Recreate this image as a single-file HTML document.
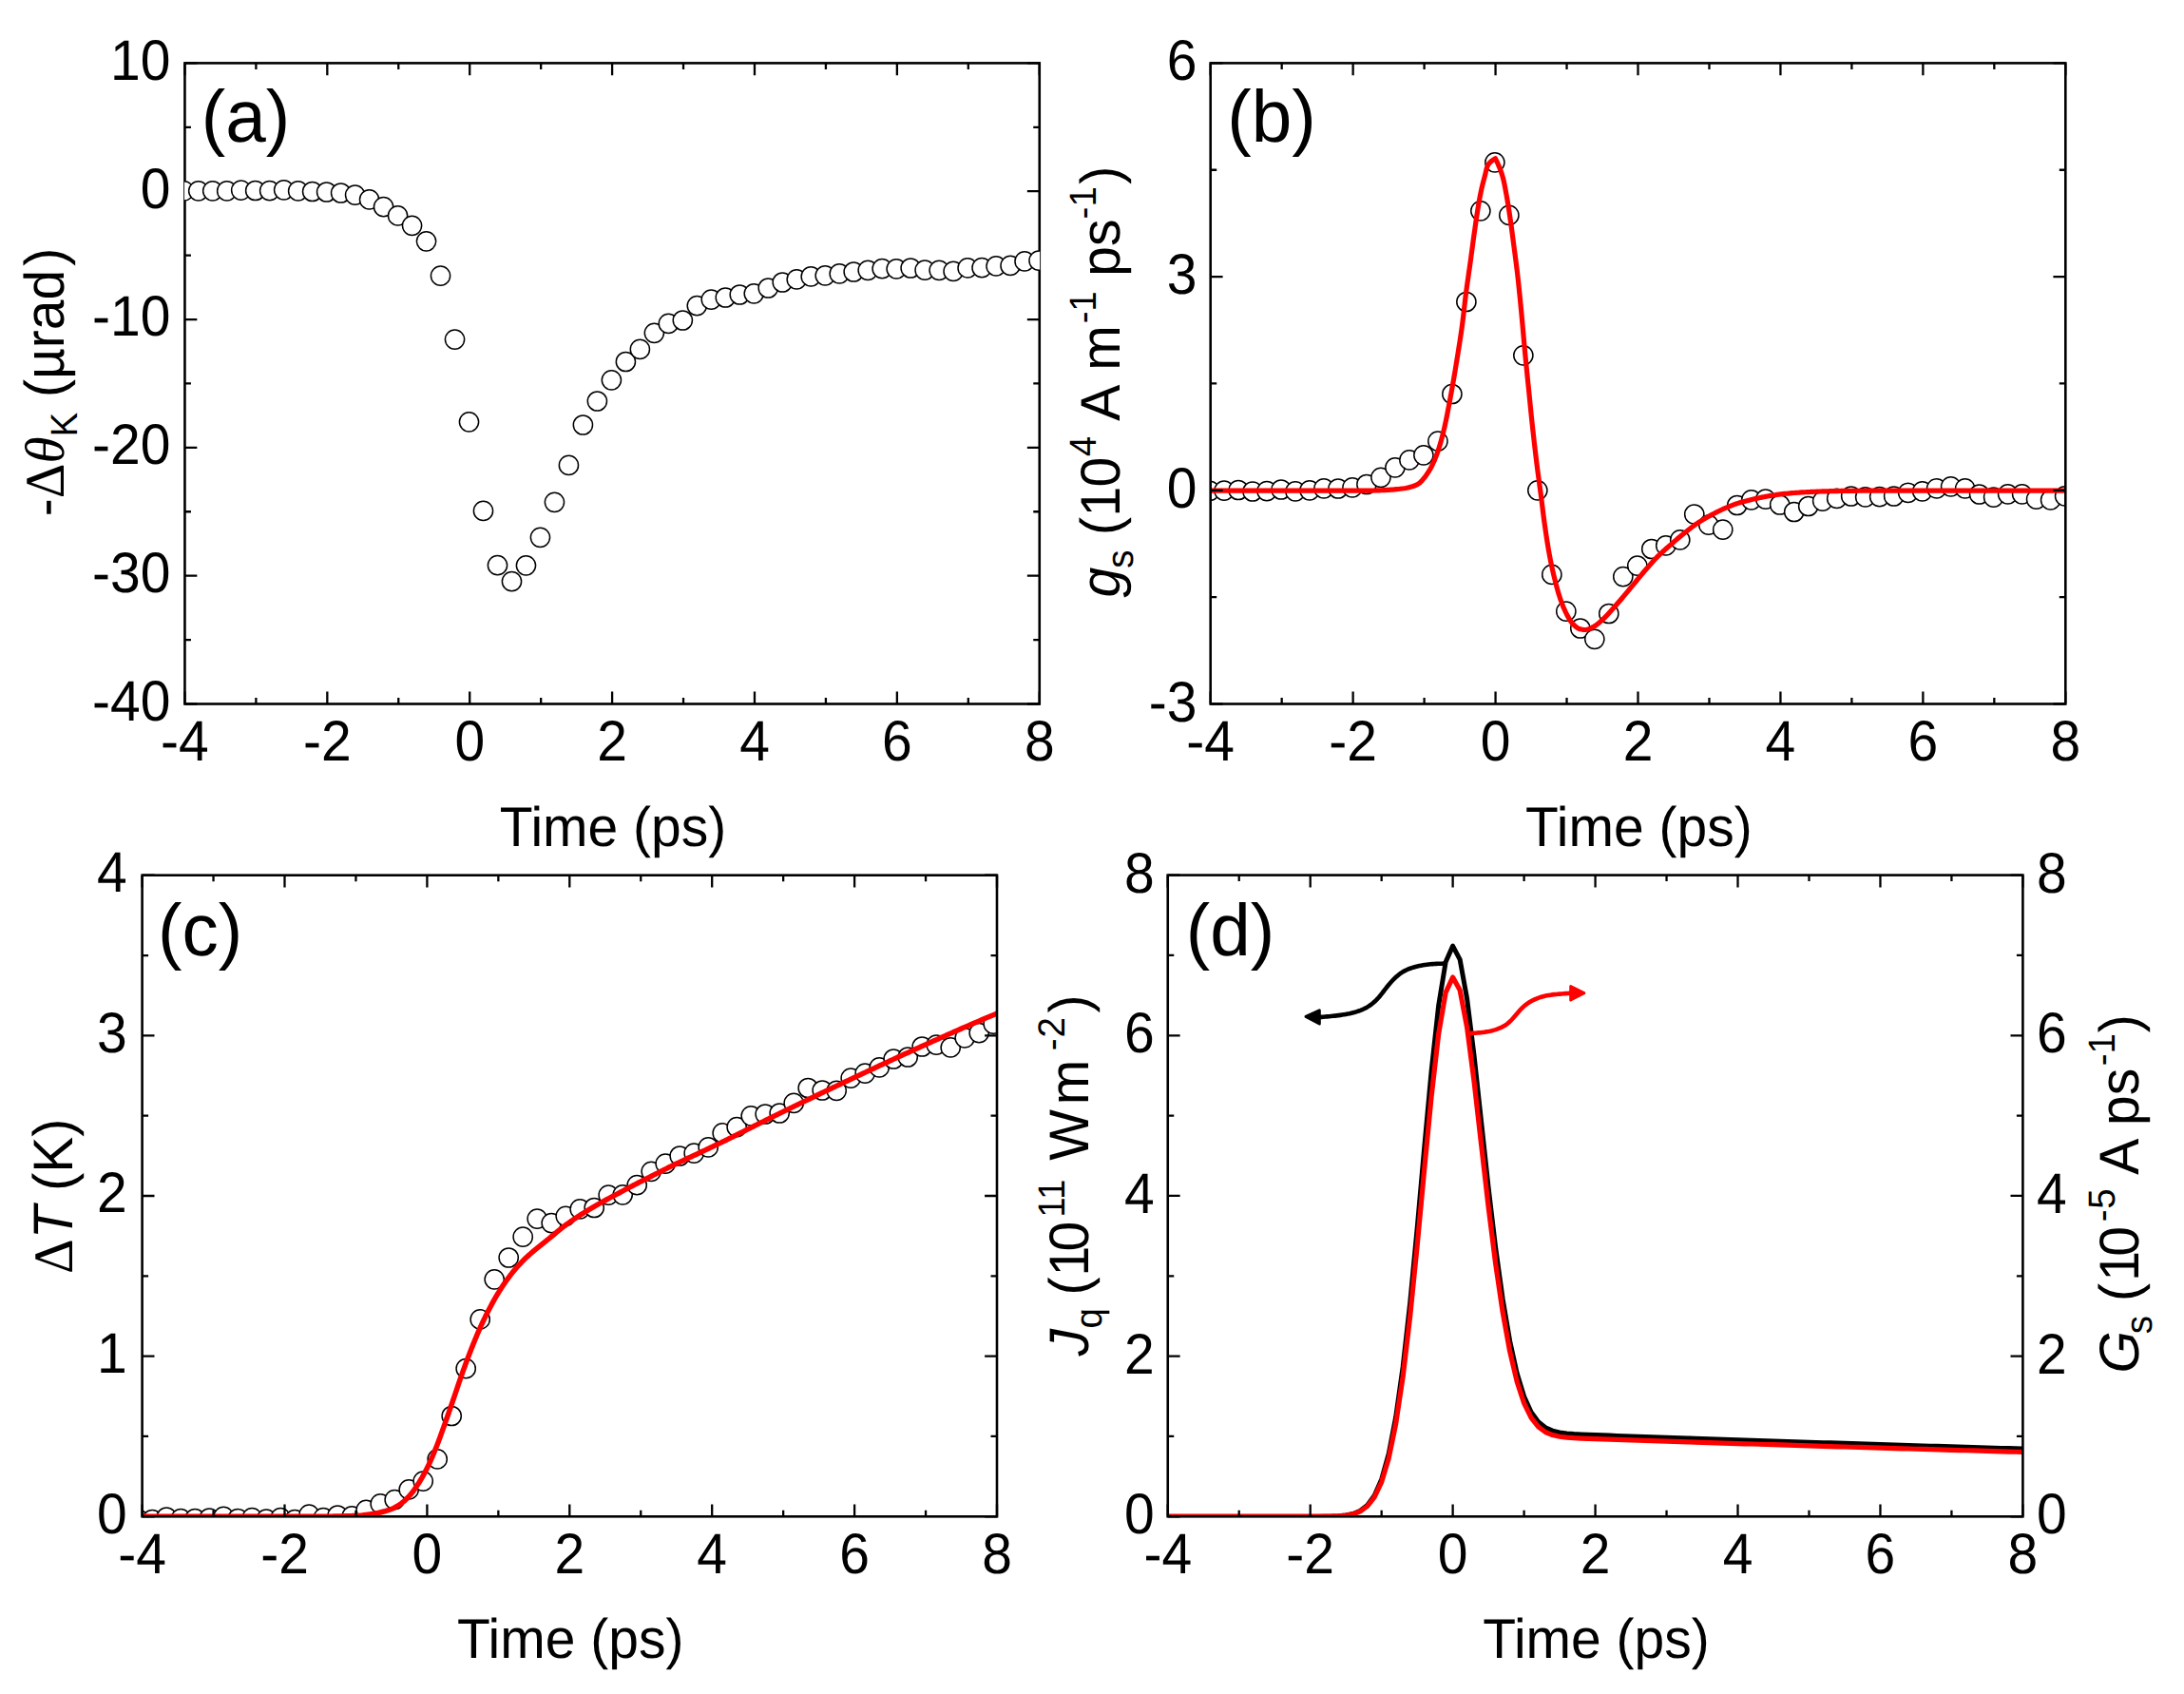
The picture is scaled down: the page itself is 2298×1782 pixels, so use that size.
<!DOCTYPE html>
<html lang="en">
<head>
<meta charset="utf-8">
<title>Figure: time-resolved Kerr rotation, spin generation, temperature and heat current</title>
<style>
html,body{margin:0;padding:0;background:#fff;}
svg{display:block;}
text{white-space:pre;}
</style>
</head>
<body>
<svg width="2298" height="1782" viewBox="0 0 2298 1782" text-rendering="geometricPrecision">
<rect width="2298" height="1782" fill="#fff"/>
<defs>
<clipPath id="clipa"><rect x="194.05" y="66" width="900.1" height="674.9"/></clipPath>
<clipPath id="clipb"><rect x="1273.3" y="66" width="900.4" height="674.9"/></clipPath>
<clipPath id="clipc"><rect x="149.2" y="920.3" width="900.2" height="675.4"/></clipPath>
<clipPath id="clipd"><rect x="1228.35" y="920.2" width="900.45" height="675.5"/></clipPath>
</defs>
<g stroke="#000" stroke-width="2.6" fill="none" stroke-linecap="butt">
<rect x="194.45" y="66.4" width="899.3" height="674.1" stroke-linejoin="miter"/>
<path d="M194.45 740.5v-12.9M194.45 66.4v12.9M344.33 740.5v-12.9M344.33 66.4v12.9M494.22 740.5v-12.9M494.22 66.4v12.9M644.1 740.5v-12.9M644.1 66.4v12.9M793.98 740.5v-12.9M793.98 66.4v12.9M943.87 740.5v-12.9M943.87 66.4v12.9M1093.75 740.5v-12.9M1093.75 66.4v12.9M269.39 740.5v-6.5M269.39 66.4v6.5M419.27 740.5v-6.5M419.27 66.4v6.5M569.16 740.5v-6.5M569.16 66.4v6.5M719.04 740.5v-6.5M719.04 66.4v6.5M868.92 740.5v-6.5M868.92 66.4v6.5M1018.81 740.5v-6.5M1018.81 66.4v6.5M194.45 740.5h12.9M1093.75 740.5h-12.9M194.45 605.68h12.9M1093.75 605.68h-12.9M194.45 470.86h12.9M1093.75 470.86h-12.9M194.45 336.04h12.9M1093.75 336.04h-12.9M194.45 201.22h12.9M1093.75 201.22h-12.9M194.45 66.4h12.9M1093.75 66.4h-12.9M194.45 673.09h6.5M1093.75 673.09h-6.5M194.45 538.27h6.5M1093.75 538.27h-6.5M194.45 403.45h6.5M1093.75 403.45h-6.5M194.45 268.63h6.5M1093.75 268.63h-6.5M194.45 133.81h6.5M1093.75 133.81h-6.5" stroke-width="2.3"/>
</g>
<g clip-path="url(#clipa)" fill="#fff" stroke="#000" stroke-width="1.5">
<circle cx="193.75" cy="200.8" r="10.1"/>
<circle cx="208.74" cy="200.8" r="10.1"/>
<circle cx="223.73" cy="200.8" r="10.1"/>
<circle cx="238.72" cy="200.9" r="10.1"/>
<circle cx="253.7" cy="200.1" r="10.1"/>
<circle cx="268.69" cy="200.5" r="10.1"/>
<circle cx="283.68" cy="200.7" r="10.1"/>
<circle cx="298.67" cy="199.8" r="10.1"/>
<circle cx="313.66" cy="200.9" r="10.1"/>
<circle cx="328.64" cy="201.5" r="10.1"/>
<circle cx="343.63" cy="202" r="10.1"/>
<circle cx="358.62" cy="203" r="10.1"/>
<circle cx="373.61" cy="205.1" r="10.1"/>
<circle cx="388.6" cy="209.9" r="10.1"/>
<circle cx="403.59" cy="217.7" r="10.1"/>
<circle cx="418.57" cy="226.9" r="10.1"/>
<circle cx="433.56" cy="237.3" r="10.1"/>
<circle cx="448.55" cy="253.8" r="10.1"/>
<circle cx="463.54" cy="290.2" r="10.1"/>
<circle cx="478.53" cy="357.1" r="10.1"/>
<circle cx="493.52" cy="443.8" r="10.1"/>
<circle cx="508.5" cy="537.4" r="10.1"/>
<circle cx="523.49" cy="594.7" r="10.1"/>
<circle cx="538.48" cy="611.7" r="10.1"/>
<circle cx="553.47" cy="594.8" r="10.1"/>
<circle cx="568.46" cy="565.3" r="10.1"/>
<circle cx="583.45" cy="528.3" r="10.1"/>
<circle cx="598.43" cy="489.4" r="10.1"/>
<circle cx="613.42" cy="447" r="10.1"/>
<circle cx="628.41" cy="422" r="10.1"/>
<circle cx="643.4" cy="399.8" r="10.1"/>
<circle cx="658.39" cy="380.5" r="10.1"/>
<circle cx="673.38" cy="367.4" r="10.1"/>
<circle cx="688.37" cy="350.3" r="10.1"/>
<circle cx="703.35" cy="340.4" r="10.1"/>
<circle cx="718.34" cy="337" r="10.1"/>
<circle cx="733.33" cy="321.6" r="10.1"/>
<circle cx="748.32" cy="315.2" r="10.1"/>
<circle cx="763.31" cy="313" r="10.1"/>
<circle cx="778.29" cy="310" r="10.1"/>
<circle cx="793.28" cy="308.8" r="10.1"/>
<circle cx="808.27" cy="303" r="10.1"/>
<circle cx="823.26" cy="297" r="10.1"/>
<circle cx="838.25" cy="293.9" r="10.1"/>
<circle cx="853.24" cy="290.9" r="10.1"/>
<circle cx="868.22" cy="289.8" r="10.1"/>
<circle cx="883.21" cy="287.9" r="10.1"/>
<circle cx="898.2" cy="286" r="10.1"/>
<circle cx="913.19" cy="284.3" r="10.1"/>
<circle cx="928.18" cy="282.7" r="10.1"/>
<circle cx="943.17" cy="282.8" r="10.1"/>
<circle cx="958.15" cy="282" r="10.1"/>
<circle cx="973.14" cy="284.2" r="10.1"/>
<circle cx="988.13" cy="284.3" r="10.1"/>
<circle cx="1003.12" cy="285.4" r="10.1"/>
<circle cx="1018.11" cy="281.9" r="10.1"/>
<circle cx="1033.1" cy="281.7" r="10.1"/>
<circle cx="1048.09" cy="279.9" r="10.1"/>
<circle cx="1063.07" cy="279.4" r="10.1"/>
<circle cx="1078.06" cy="274.9" r="10.1"/>
<circle cx="1093.05" cy="274.2" r="10.1"/>
</g>
<g font-family='"Liberation Sans", Arial, Helvetica, sans-serif' font-size="57" fill="#000">
<text transform="translate(194.45 800.1) scale(1 1.055)" text-anchor="middle">-4</text>
<text transform="translate(344.33 800.1) scale(1 1.055)" text-anchor="middle">-2</text>
<text transform="translate(494.22 800.1) scale(1 1.055)" text-anchor="middle">0</text>
<text transform="translate(644.1 800.1) scale(1 1.055)" text-anchor="middle">2</text>
<text transform="translate(793.98 800.1) scale(1 1.055)" text-anchor="middle">4</text>
<text transform="translate(943.87 800.1) scale(1 1.055)" text-anchor="middle">6</text>
<text transform="translate(1093.75 800.1) scale(1 1.055)" text-anchor="middle">8</text>
<text transform="translate(179.45 757.8) scale(1 1.055)" text-anchor="end">-40</text>
<text transform="translate(179.45 622.98) scale(1 1.055)" text-anchor="end">-30</text>
<text transform="translate(179.45 488.16) scale(1 1.055)" text-anchor="end">-20</text>
<text transform="translate(179.45 353.34) scale(1 1.055)" text-anchor="end">-10</text>
<text transform="translate(179.45 218.52) scale(1 1.055)" text-anchor="end">0</text>
<text transform="translate(179.45 83.7) scale(1 1.055)" text-anchor="end">10</text>
</g>
<text transform="translate(645 890) scale(1 1.03)" text-anchor="middle" font-family='"Liberation Sans", Arial, Helvetica, sans-serif' font-size="57" fill="#000">Time (ps)</text>
<text transform="translate(258.55 148.8) scale(1 1.012)" text-anchor="middle" font-family='"Liberation Sans", Arial, Helvetica, sans-serif' font-size="76.5" fill="#000">(a)</text>
<text transform="translate(67 402) rotate(-90) scale(1 1.03)" text-anchor="middle" font-family='"Liberation Sans", Arial, Helvetica, sans-serif' font-size="57" fill="#000">-<tspan font-family='"Liberation Serif", "Times New Roman", serif'>&#916;</tspan><tspan font-family='"Liberation Serif", "Times New Roman", serif' font-style="italic">&#952;</tspan><tspan font-size="38.5" dy="14">K</tspan><tspan dy="-14" font-size="57">&#8203;</tspan> (&#181;rad<tspan dx="4">)</tspan></text>
<g clip-path="url(#clipb)" fill="#fff" stroke="#000" stroke-width="1.5">
<circle cx="1273" cy="516.3" r="10.1"/>
<circle cx="1287.99" cy="516.2" r="10.1"/>
<circle cx="1302.99" cy="515.5" r="10.1"/>
<circle cx="1317.98" cy="517" r="10.1"/>
<circle cx="1332.97" cy="516.6" r="10.1"/>
<circle cx="1347.97" cy="515" r="10.1"/>
<circle cx="1362.96" cy="516.9" r="10.1"/>
<circle cx="1377.95" cy="515.8" r="10.1"/>
<circle cx="1392.95" cy="513.9" r="10.1"/>
<circle cx="1407.94" cy="514" r="10.1"/>
<circle cx="1422.93" cy="512.9" r="10.1"/>
<circle cx="1437.93" cy="509.5" r="10.1"/>
<circle cx="1452.92" cy="502.3" r="10.1"/>
<circle cx="1467.91" cy="491.8" r="10.1"/>
<circle cx="1482.91" cy="483.9" r="10.1"/>
<circle cx="1497.9" cy="478.8" r="10.1"/>
<circle cx="1512.89" cy="464.2" r="10.1"/>
<circle cx="1527.89" cy="414.5" r="10.1"/>
<circle cx="1542.88" cy="317.5" r="10.1"/>
<circle cx="1557.87" cy="221.8" r="10.1"/>
<circle cx="1572.87" cy="170.8" r="10.1"/>
<circle cx="1587.86" cy="226.4" r="10.1"/>
<circle cx="1602.85" cy="373.8" r="10.1"/>
<circle cx="1617.85" cy="515.8" r="10.1"/>
<circle cx="1632.84" cy="604.4" r="10.1"/>
<circle cx="1647.83" cy="643.2" r="10.1"/>
<circle cx="1662.83" cy="661" r="10.1"/>
<circle cx="1677.82" cy="672.3" r="10.1"/>
<circle cx="1692.81" cy="645.5" r="10.1"/>
<circle cx="1707.81" cy="606.6" r="10.1"/>
<circle cx="1722.8" cy="595.1" r="10.1"/>
<circle cx="1737.79" cy="577.5" r="10.1"/>
<circle cx="1752.79" cy="573.9" r="10.1"/>
<circle cx="1767.78" cy="567.9" r="10.1"/>
<circle cx="1782.77" cy="541" r="10.1"/>
<circle cx="1797.77" cy="552.1" r="10.1"/>
<circle cx="1812.76" cy="557.2" r="10.1"/>
<circle cx="1827.75" cy="531.5" r="10.1"/>
<circle cx="1842.75" cy="525.8" r="10.1"/>
<circle cx="1857.74" cy="525.1" r="10.1"/>
<circle cx="1872.73" cy="531" r="10.1"/>
<circle cx="1887.73" cy="538.5" r="10.1"/>
<circle cx="1902.72" cy="532.5" r="10.1"/>
<circle cx="1917.71" cy="527.1" r="10.1"/>
<circle cx="1932.71" cy="524.4" r="10.1"/>
<circle cx="1947.7" cy="522" r="10.1"/>
<circle cx="1962.69" cy="522.9" r="10.1"/>
<circle cx="1977.69" cy="522.6" r="10.1"/>
<circle cx="1992.68" cy="522" r="10.1"/>
<circle cx="2007.67" cy="518.3" r="10.1"/>
<circle cx="2022.67" cy="516.8" r="10.1"/>
<circle cx="2037.66" cy="513.8" r="10.1"/>
<circle cx="2052.65" cy="511.8" r="10.1"/>
<circle cx="2067.65" cy="513.9" r="10.1"/>
<circle cx="2082.64" cy="520" r="10.1"/>
<circle cx="2097.63" cy="523.1" r="10.1"/>
<circle cx="2112.63" cy="519.8" r="10.1"/>
<circle cx="2127.62" cy="519.8" r="10.1"/>
<circle cx="2142.61" cy="525.2" r="10.1"/>
<circle cx="2157.61" cy="525.9" r="10.1"/>
<circle cx="2172.6" cy="521.8" r="10.1"/>
</g>
<g clip-path="url(#clipb)"><path d="M1274 516.1L1275.99 516.1L1277.99 516.1L1279.98 516.1L1281.98 516.1L1283.97 516.1L1285.96 516.1L1287.96 516.1L1289.95 516.1L1291.94 516.1L1293.94 516.1L1295.93 516.1L1297.93 516.1L1299.92 516.1L1301.91 516.1L1303.91 516.1L1305.9 516.1L1307.89 516.1L1309.89 516.1L1311.88 516.1L1313.88 516.1L1315.87 516.1L1317.86 516.1L1319.86 516.1L1321.85 516.1L1323.84 516.1L1325.84 516.1L1327.83 516.1L1329.82 516.1L1331.82 516.1L1333.81 516.1L1335.8 516.1L1337.8 516.1L1339.79 516.1L1341.78 516.1L1343.78 516.1L1345.77 516.1L1347.76 516.1L1349.76 516.1L1351.75 516.1L1353.74 516.1L1355.74 516.1L1357.73 516.1L1359.72 516.1L1361.72 516.1L1363.71 516.1L1365.7 516.1L1367.7 516.1L1369.69 516.1L1371.68 516.1L1373.68 516.1L1375.67 516.1L1377.66 516.1L1379.66 516.1L1381.65 516.1L1383.64 516.1L1385.64 516.1L1387.63 516.1L1389.62 516.1L1391.62 516.1L1393.61 516.1L1395.6 516.1L1397.6 516.1L1399.59 516.1L1401.58 516.1L1403.57 516.1L1405.57 516.1L1407.56 516.1L1409.55 516.1L1411.55 516.1L1413.54 516.1L1415.53 516.1L1417.53 516.1L1419.52 516.1L1421.51 516.1L1423.5 516.1L1425.5 516.1L1427.49 516.1L1429.48 516.1L1431.48 516.1L1433.47 516.1L1435.46 516.1L1437.46 516.1L1439.45 516.1L1441.44 516.09L1443.43 516.06L1445.43 516.02L1447.42 515.96L1449.41 515.89L1451.41 515.82L1453.4 515.75L1455.39 515.66L1457.38 515.56L1459.37 515.45L1461.36 515.32L1463.35 515.19L1465.34 515.05L1467.32 514.89L1469.31 514.71L1471.29 514.51L1473.27 514.29L1475.25 514.04L1477.23 513.77L1479.2 513.45L1481.15 513.06L1483.1 512.6L1485.03 512.06L1486.93 511.45L1488.79 510.77L1490.64 509.96L1492.39 509L1493.95 507.86L1495.37 506.46L1496.71 504.93L1498 503.38L1499.25 501.83L1500.45 500.23L1501.6 498.6L1502.69 496.94L1503.76 495.25L1504.78 493.53L1505.75 491.79L1506.64 490.02L1507.5 488.23L1508.34 486.42L1509.15 484.59L1509.93 482.75L1510.69 480.89L1511.41 479.03L1512.11 477.16L1512.77 475.28L1513.4 473.4L1514.01 471.51L1514.6 469.61L1515.18 467.71L1515.74 465.79L1516.28 463.87L1516.8 461.94L1517.32 460.01L1517.82 458.07L1518.3 456.14L1518.78 454.2L1519.25 452.26L1519.7 450.32L1520.15 448.38L1520.58 446.43L1521 444.49L1521.42 442.54L1521.82 440.59L1522.21 438.63L1522.6 436.67L1522.97 434.72L1523.35 432.76L1523.72 430.8L1524.09 428.84L1524.46 426.88L1524.83 424.92L1525.19 422.96L1525.56 421L1525.93 419.04L1526.29 417.08L1526.65 415.12L1527.01 413.16L1527.37 411.2L1527.72 409.23L1528.07 407.27L1528.42 405.31L1528.76 403.34L1529.1 401.38L1529.45 399.42L1529.78 397.45L1530.12 395.49L1530.46 393.52L1530.79 391.56L1531.13 389.59L1531.46 387.63L1531.79 385.66L1532.11 383.69L1532.44 381.73L1532.76 379.76L1533.08 377.79L1533.4 375.83L1533.72 373.86L1534.03 371.89L1534.34 369.92L1534.66 367.95L1534.97 365.98L1535.28 364.01L1535.59 362.04L1535.9 360.07L1536.2 358.1L1536.5 356.13L1536.8 354.16L1537.1 352.19L1537.39 350.22L1537.67 348.25L1537.95 346.27L1538.22 344.3L1538.49 342.32L1538.75 340.35L1539 338.37L1539.24 336.39L1539.48 334.41L1539.71 332.43L1539.94 330.45L1540.17 328.47L1540.39 326.49L1540.62 324.51L1540.84 322.53L1541.07 320.55L1541.29 318.57L1541.52 316.59L1541.76 314.61L1542 312.63L1542.24 310.65L1542.49 308.67L1542.75 306.7L1543.01 304.72L1543.27 302.75L1543.54 300.77L1543.82 298.8L1544.09 296.82L1544.37 294.85L1544.65 292.87L1544.93 290.9L1545.21 288.93L1545.5 286.95L1545.78 284.98L1546.06 283.01L1546.34 281.03L1546.62 279.06L1546.9 277.09L1547.17 275.11L1547.45 273.14L1547.72 271.16L1547.98 269.19L1548.25 267.21L1548.51 265.23L1548.78 263.26L1549.04 261.28L1549.3 259.31L1549.57 257.33L1549.83 255.36L1550.1 253.38L1550.37 251.41L1550.64 249.43L1550.91 247.46L1551.19 245.48L1551.47 243.51L1551.75 241.53L1552.03 239.56L1552.31 237.59L1552.6 235.61L1552.88 233.64L1553.17 231.67L1553.46 229.7L1553.76 227.72L1554.05 225.75L1554.36 223.78L1554.67 221.81L1554.98 219.85L1555.3 217.88L1555.63 215.91L1555.96 213.95L1556.3 211.98L1556.64 210.02L1557 208.05L1557.36 206.09L1557.74 204.14L1558.14 202.19L1558.55 200.24L1558.98 198.29L1559.44 196.35L1559.91 194.42L1560.4 192.48L1560.9 190.55L1561.41 188.62L1561.92 186.7L1562.43 184.77L1562.92 182.79L1563.38 180.76L1563.86 178.74L1564.39 176.79L1565.02 174.98L1565.79 173.35L1566.84 171.85L1568.18 170.43L1569.75 169.11L1571.51 167.9L1573.4 166.8L1573.4 166.8L1574.32 168.6L1575.2 170.42L1576.05 172.25L1576.86 174.09L1577.64 175.94L1578.38 177.8L1579.08 179.67L1579.74 181.55L1580.36 183.43L1580.93 185.33L1581.45 187.24L1581.94 189.17L1582.38 191.11L1582.8 193.07L1583.2 195.04L1583.58 197.01L1583.95 198.98L1584.32 200.95L1584.68 202.91L1585.04 204.88L1585.39 206.84L1585.73 208.81L1586.07 210.78L1586.4 212.76L1586.72 214.73L1587.04 216.7L1587.35 218.68L1587.66 220.65L1587.96 222.63L1588.26 224.6L1588.56 226.58L1588.85 228.56L1589.13 230.53L1589.42 232.51L1589.69 234.49L1589.97 236.47L1590.24 238.45L1590.5 240.43L1590.77 242.42L1591.03 244.4L1591.29 246.38L1591.55 248.36L1591.81 250.34L1592.07 252.33L1592.33 254.31L1592.59 256.29L1592.85 258.27L1593.11 260.25L1593.37 262.23L1593.64 264.21L1593.9 266.2L1594.16 268.18L1594.42 270.16L1594.68 272.14L1594.94 274.12L1595.19 276.11L1595.45 278.09L1595.69 280.07L1595.94 282.06L1596.18 284.04L1596.42 286.02L1596.65 288.01L1596.88 289.99L1597.1 291.98L1597.32 293.97L1597.54 295.95L1597.75 297.94L1597.96 299.93L1598.17 301.92L1598.38 303.9L1598.58 305.89L1598.78 307.88L1598.98 309.87L1599.18 311.86L1599.37 313.85L1599.57 315.84L1599.76 317.83L1599.96 319.82L1600.15 321.8L1600.34 323.79L1600.53 325.78L1600.72 327.77L1600.91 329.76L1601.09 331.75L1601.28 333.74L1601.46 335.73L1601.64 337.72L1601.82 339.72L1602 341.71L1602.18 343.7L1602.36 345.69L1602.54 347.68L1602.72 349.67L1602.89 351.66L1603.07 353.65L1603.24 355.64L1603.41 357.63L1603.59 359.62L1603.76 361.61L1603.94 363.61L1604.12 365.6L1604.31 367.59L1604.49 369.58L1604.68 371.57L1604.87 373.55L1605.07 375.54L1605.26 377.53L1605.46 379.52L1605.65 381.51L1605.85 383.5L1606.05 385.49L1606.25 387.48L1606.45 389.47L1606.65 391.46L1606.85 393.44L1607.05 395.43L1607.26 397.42L1607.46 399.41L1607.66 401.4L1607.86 403.39L1608.06 405.37L1608.27 407.36L1608.47 409.35L1608.67 411.34L1608.86 413.33L1609.06 415.32L1609.26 417.31L1609.46 419.3L1609.66 421.28L1609.86 423.27L1610.05 425.26L1610.25 427.25L1610.45 429.24L1610.65 431.23L1610.85 433.22L1611.06 435.21L1611.26 437.19L1611.46 439.18L1611.67 441.17L1611.88 443.16L1612.09 445.15L1612.3 447.13L1612.52 449.12L1612.73 451.11L1612.95 453.09L1613.17 455.08L1613.39 457.07L1613.61 459.05L1613.83 461.04L1614.06 463.03L1614.28 465.01L1614.51 467L1614.74 468.98L1614.97 470.97L1615.2 472.95L1615.44 474.94L1615.67 476.92L1615.91 478.91L1616.15 480.89L1616.39 482.88L1616.63 484.86L1616.87 486.84L1617.12 488.83L1617.36 490.81L1617.61 492.79L1617.87 494.78L1618.13 496.76L1618.39 498.74L1618.66 500.72L1618.93 502.7L1619.2 504.68L1619.47 506.66L1619.74 508.64L1620.01 510.62L1620.28 512.6L1620.55 514.58L1620.81 516.56L1621.08 518.54L1621.33 520.53L1621.59 522.51L1621.84 524.49L1622.08 526.48L1622.33 528.46L1622.57 530.44L1622.81 532.43L1623.05 534.41L1623.3 536.4L1623.54 538.38L1623.79 540.36L1624.04 542.35L1624.29 544.33L1624.55 546.31L1624.82 548.29L1625.09 550.27L1625.36 552.25L1625.65 554.23L1625.93 556.21L1626.22 558.19L1626.51 560.16L1626.8 562.14L1627.1 564.12L1627.4 566.1L1627.71 568.07L1628.02 570.05L1628.33 572.02L1628.66 574L1628.98 575.97L1629.32 577.94L1629.66 579.91L1630.01 581.87L1630.36 583.84L1630.73 585.8L1631.1 587.76L1631.48 589.72L1631.88 591.68L1632.28 593.64L1632.7 595.6L1633.13 597.55L1633.57 599.5L1634.01 601.45L1634.47 603.4L1634.93 605.35L1635.4 607.29L1635.88 609.23L1636.37 611.16L1636.86 613.1L1637.36 615.04L1637.87 616.98L1638.39 618.91L1638.93 620.84L1639.48 622.76L1640.05 624.68L1640.65 626.59L1641.26 628.49L1641.89 630.37L1642.55 632.25L1643.24 634.14L1643.95 636.02L1644.69 637.89L1645.47 639.74L1646.27 641.58L1647.1 643.4L1647.97 645.18L1648.88 646.94L1649.83 648.72L1650.83 650.5L1651.9 652.25L1653.03 653.93L1654.24 655.5L1655.53 656.93L1656.96 658.31L1658.57 659.67L1660.28 660.82L1662.07 661.61L1663.95 662.05L1665.97 662.37L1667.97 662.5L1669.91 662.25L1671.84 661.64L1673.74 660.81L1675.56 659.91L1677.29 659.02L1678.96 657.95L1680.58 656.74L1682.15 655.44L1683.68 654.12L1685.18 652.82L1686.64 651.47L1688.07 650.07L1689.47 648.64L1690.85 647.18L1692.22 645.71L1693.58 644.25L1694.94 642.78L1696.28 641.31L1697.61 639.81L1698.93 638.31L1700.24 636.8L1701.55 635.29L1702.85 633.77L1704.16 632.25L1705.45 630.73L1706.74 629.21L1708.03 627.68L1709.31 626.14L1710.59 624.61L1711.87 623.07L1713.14 621.53L1714.42 619.99L1715.69 618.45L1716.97 616.92L1718.25 615.38L1719.52 613.84L1720.79 612.29L1722.06 610.74L1723.32 609.2L1724.59 607.65L1725.86 606.11L1727.14 604.57L1728.42 603.04L1729.71 601.51L1731.01 600L1732.32 598.49L1733.63 596.98L1734.95 595.47L1736.27 593.96L1737.6 592.46L1738.93 590.98L1740.28 589.5L1741.65 588.04L1743.03 586.6L1744.42 585.18L1745.84 583.78L1747.29 582.4L1748.75 581.05L1750.24 579.71L1751.73 578.38L1753.24 577.06L1754.75 575.75L1756.26 574.43L1757.77 573.12L1759.28 571.81L1760.78 570.49L1762.28 569.17L1763.79 567.86L1765.3 566.55L1766.82 565.24L1768.35 563.95L1769.88 562.67L1771.42 561.41L1772.98 560.16L1774.54 558.91L1776.11 557.67L1777.69 556.43L1779.28 555.21L1780.88 554.01L1782.5 552.83L1784.12 551.68L1785.77 550.55L1787.43 549.46L1789.12 548.39L1790.82 547.34L1792.54 546.31L1794.27 545.3L1796.01 544.31L1797.75 543.33L1799.5 542.36L1801.26 541.41L1803.02 540.47L1804.79 539.53L1806.57 538.62L1808.36 537.72L1810.16 536.85L1811.96 536L1813.78 535.17L1815.61 534.37L1817.45 533.57L1819.29 532.8L1821.15 532.04L1823.02 531.32L1824.89 530.63L1826.77 529.97L1828.67 529.36L1830.58 528.78L1832.5 528.22L1834.43 527.68L1836.36 527.17L1838.3 526.67L1840.24 526.19L1842.18 525.71L1844.13 525.25L1846.07 524.81L1848.03 524.37L1849.98 523.95L1851.94 523.55L1853.9 523.16L1855.86 522.78L1857.82 522.4L1859.79 522.04L1861.76 521.68L1863.73 521.34L1865.7 521.02L1867.68 520.72L1869.65 520.44L1871.63 520.17L1873.62 519.92L1875.6 519.68L1877.59 519.45L1879.58 519.24L1881.57 519.04L1883.55 518.86L1885.55 518.68L1887.54 518.52L1889.53 518.36L1891.53 518.22L1893.52 518.09L1895.51 517.97L1897.51 517.86L1899.5 517.75L1901.5 517.64L1903.5 517.53L1905.49 517.43L1907.49 517.34L1909.49 517.25L1911.48 517.16L1913.48 517.08L1915.48 517L1917.48 516.93L1919.47 516.87L1921.47 516.81L1923.47 516.76L1925.47 516.71L1927.47 516.67L1929.46 516.62L1931.46 516.58L1933.46 516.53L1935.46 516.5L1937.46 516.46L1939.46 516.42L1941.45 516.39L1943.45 516.37L1945.45 516.34L1947.45 516.32L1949.45 516.3L1951.45 516.29L1953.45 516.28L1955.44 516.26L1957.44 516.25L1959.44 516.24L1961.44 516.23L1963.44 516.21L1965.44 516.2L1967.44 516.19L1969.43 516.18L1971.43 516.17L1973.43 516.16L1975.43 516.15L1977.43 516.15L1979.43 516.14L1981.43 516.13L1983.43 516.13L1985.42 516.12L1987.42 516.12L1989.42 516.11L1991.42 516.11L1993.42 516.1L1995.42 516.1L1997.42 516.1L1999.42 516.1L2001.41 516.1L2003.41 516.1L2005.41 516.1L2007.41 516.1L2009.41 516.1L2011.41 516.1L2013.41 516.1L2015.4 516.1L2017.4 516.1L2019.4 516.1L2021.4 516.1L2023.4 516.1L2025.4 516.1L2027.4 516.1L2029.4 516.1L2031.39 516.1L2033.39 516.1L2035.39 516.1L2037.39 516.1L2039.39 516.1L2041.39 516.1L2043.39 516.1L2045.38 516.1L2047.38 516.1L2049.38 516.1L2051.38 516.1L2053.38 516.1L2055.38 516.1L2057.38 516.1L2059.38 516.1L2061.37 516.1L2063.37 516.1L2065.37 516.1L2067.37 516.1L2069.37 516.1L2071.37 516.1L2073.37 516.1L2075.36 516.1L2077.36 516.1L2079.36 516.1L2081.36 516.1L2083.36 516.1L2085.36 516.1L2087.36 516.1L2089.36 516.1L2091.35 516.1L2093.35 516.1L2095.35 516.1L2097.35 516.1L2099.35 516.1L2101.35 516.1L2103.35 516.1L2105.34 516.1L2107.34 516.1L2109.34 516.1L2111.34 516.1L2113.34 516.1L2115.34 516.1L2117.34 516.1L2119.34 516.1L2121.33 516.1L2123.33 516.1L2125.33 516.1L2127.33 516.1L2129.33 516.1L2131.33 516.1L2133.33 516.1L2135.33 516.1L2137.32 516.1L2139.32 516.1L2141.32 516.1L2143.32 516.1L2145.32 516.1L2147.32 516.1L2149.32 516.1L2151.31 516.1L2153.31 516.1L2155.31 516.1L2157.31 516.1L2159.31 516.1L2161.31 516.1L2163.31 516.1L2165.31 516.1L2167.3 516.1L2169.3 516.1L2171.3 516.1L2173.3 516.1" fill="none" stroke="#ff0000" stroke-width="5.2" stroke-linejoin="round" stroke-linecap="butt"/></g>
<g stroke="#000" stroke-width="2.6" fill="none" stroke-linecap="butt">
<rect x="1273.7" y="66.4" width="899.6" height="674.1" stroke-linejoin="miter"/>
<path d="M1273.7 740.5v-12.9M1273.7 66.4v12.9M1423.63 740.5v-12.9M1423.63 66.4v12.9M1573.57 740.5v-12.9M1573.57 66.4v12.9M1723.5 740.5v-12.9M1723.5 66.4v12.9M1873.43 740.5v-12.9M1873.43 66.4v12.9M2023.37 740.5v-12.9M2023.37 66.4v12.9M2173.3 740.5v-12.9M2173.3 66.4v12.9M1348.67 740.5v-6.5M1348.67 66.4v6.5M1498.6 740.5v-6.5M1498.6 66.4v6.5M1648.53 740.5v-6.5M1648.53 66.4v6.5M1798.47 740.5v-6.5M1798.47 66.4v6.5M1948.4 740.5v-6.5M1948.4 66.4v6.5M2098.33 740.5v-6.5M2098.33 66.4v6.5M1273.7 740.5h12.9M2173.3 740.5h-12.9M1273.7 515.8h12.9M2173.3 515.8h-12.9M1273.7 291.1h12.9M2173.3 291.1h-12.9M1273.7 66.4h12.9M2173.3 66.4h-12.9M1273.7 628.15h6.5M2173.3 628.15h-6.5M1273.7 403.45h6.5M2173.3 403.45h-6.5M1273.7 178.75h6.5M2173.3 178.75h-6.5" stroke-width="2.3"/>
</g>
<g font-family='"Liberation Sans", Arial, Helvetica, sans-serif' font-size="57" fill="#000">
<text transform="translate(1273.7 800.1) scale(1 1.055)" text-anchor="middle">-4</text>
<text transform="translate(1423.63 800.1) scale(1 1.055)" text-anchor="middle">-2</text>
<text transform="translate(1573.57 800.1) scale(1 1.055)" text-anchor="middle">0</text>
<text transform="translate(1723.5 800.1) scale(1 1.055)" text-anchor="middle">2</text>
<text transform="translate(1873.43 800.1) scale(1 1.055)" text-anchor="middle">4</text>
<text transform="translate(2023.37 800.1) scale(1 1.055)" text-anchor="middle">6</text>
<text transform="translate(2173.3 800.1) scale(1 1.055)" text-anchor="middle">8</text>
<text transform="translate(1259.5 758.5) scale(1 1.055)" text-anchor="end">-3</text>
<text transform="translate(1259.5 533.8) scale(1 1.055)" text-anchor="end">0</text>
<text transform="translate(1259.5 309.1) scale(1 1.055)" text-anchor="end">3</text>
<text transform="translate(1259.5 84.4) scale(1 1.055)" text-anchor="end">6</text>
</g>
<text transform="translate(1724.4 890) scale(1 1.03)" text-anchor="middle" font-family='"Liberation Sans", Arial, Helvetica, sans-serif' font-size="57" fill="#000">Time (ps)</text>
<text transform="translate(1338.1 148.8) scale(1 1.012)" text-anchor="middle" font-family='"Liberation Sans", Arial, Helvetica, sans-serif' font-size="76.5" fill="#000">(b)</text>
<g font-family='"Liberation Sans", Arial, Helvetica, sans-serif' fill="#000">
<text transform="translate(1178.3 612.56) rotate(-90) scale(1 1.03)" y="0" text-anchor="middle" font-size="57" font-style="italic">g</text>
<text transform="translate(1178.3 588.09) rotate(-90) scale(1 1.03)" y="13.59" text-anchor="middle" font-size="38.5">s</text>
<text transform="translate(1178.3 553.6) rotate(-90) scale(1 1.03)" y="0" text-anchor="middle" font-size="57">(</text>
<text transform="translate(1178.3 527.55) rotate(-90) scale(1 1.03)" y="0" text-anchor="middle" font-size="57">1</text>
<text transform="translate(1178.3 496.55) rotate(-90) scale(1 1.03)" y="0" text-anchor="middle" font-size="57">0</text>
<text transform="translate(1178.3 469.63) rotate(-90) scale(1 1.03)" y="-24.27" text-anchor="middle" font-size="38.5">4</text>
<text transform="translate(1178.3 423.7) rotate(-90) scale(1 1.03)" y="0" text-anchor="middle" font-size="57">A</text>
<text transform="translate(1178.3 365.91) rotate(-90) scale(1 1.03)" y="0" text-anchor="middle" font-size="57">m</text>
<text transform="translate(1178.3 333.9) rotate(-90) scale(1 1.03)" y="-24.27" text-anchor="middle" font-size="38.5">-</text>
<text transform="translate(1178.3 316.98) rotate(-90) scale(1 1.03)" y="-24.27" text-anchor="middle" font-size="38.5">1</text>
<text transform="translate(1178.3 260.66) rotate(-90) scale(1 1.03)" y="0" text-anchor="middle" font-size="57">ps</text>
<text transform="translate(1178.3 224) rotate(-90) scale(1 1.03)" y="-24.27" text-anchor="middle" font-size="38.5">-</text>
<text transform="translate(1178.3 206.68) rotate(-90) scale(1 1.03)" y="-24.27" text-anchor="middle" font-size="38.5">1</text>
<text transform="translate(1178.3 184.25) rotate(-90) scale(1 1.03)" y="0" text-anchor="middle" font-size="57">)</text>
</g>
<g clip-path="url(#clipc)" fill="#fff" stroke="#000" stroke-width="1.5">
<circle cx="145.2" cy="1598" r="10.1"/>
<circle cx="160.2" cy="1598.5" r="10.1"/>
<circle cx="175.2" cy="1596" r="10.1"/>
<circle cx="190.2" cy="1597.7" r="10.1"/>
<circle cx="205.2" cy="1597.5" r="10.1"/>
<circle cx="220.2" cy="1597" r="10.1"/>
<circle cx="235.2" cy="1595.3" r="10.1"/>
<circle cx="250.2" cy="1597.5" r="10.1"/>
<circle cx="265.2" cy="1596.6" r="10.1"/>
<circle cx="280.2" cy="1598.2" r="10.1"/>
<circle cx="295.2" cy="1596.6" r="10.1"/>
<circle cx="310.2" cy="1598.7" r="10.1"/>
<circle cx="325.2" cy="1593.2" r="10.1"/>
<circle cx="340.2" cy="1596.6" r="10.1"/>
<circle cx="355.2" cy="1594" r="10.1"/>
<circle cx="370.2" cy="1594.8" r="10.1"/>
<circle cx="385.2" cy="1588.3" r="10.1"/>
<circle cx="400.2" cy="1581.9" r="10.1"/>
<circle cx="415.2" cy="1577.7" r="10.1"/>
<circle cx="430.2" cy="1566.9" r="10.1"/>
<circle cx="445.2" cy="1558.1" r="10.1"/>
<circle cx="460.2" cy="1534.9" r="10.1"/>
<circle cx="475.2" cy="1489.5" r="10.1"/>
<circle cx="490.2" cy="1439.7" r="10.1"/>
<circle cx="505.2" cy="1387.9" r="10.1"/>
<circle cx="520.2" cy="1345.8" r="10.1"/>
<circle cx="535.2" cy="1323" r="10.1"/>
<circle cx="550.2" cy="1301.2" r="10.1"/>
<circle cx="565.2" cy="1282.2" r="10.1"/>
<circle cx="580.2" cy="1286.6" r="10.1"/>
<circle cx="595.2" cy="1279.3" r="10.1"/>
<circle cx="610.2" cy="1271.9" r="10.1"/>
<circle cx="625.2" cy="1270.5" r="10.1"/>
<circle cx="640.2" cy="1257.2" r="10.1"/>
<circle cx="655.2" cy="1256.8" r="10.1"/>
<circle cx="670.2" cy="1246.7" r="10.1"/>
<circle cx="685.2" cy="1232.3" r="10.1"/>
<circle cx="700.2" cy="1224.2" r="10.1"/>
<circle cx="715.2" cy="1216" r="10.1"/>
<circle cx="730.2" cy="1213.2" r="10.1"/>
<circle cx="745.2" cy="1206.9" r="10.1"/>
<circle cx="760.2" cy="1191.9" r="10.1"/>
<circle cx="775.2" cy="1185.7" r="10.1"/>
<circle cx="790.2" cy="1173.8" r="10.1"/>
<circle cx="805.2" cy="1172" r="10.1"/>
<circle cx="820.2" cy="1171" r="10.1"/>
<circle cx="835.2" cy="1160.4" r="10.1"/>
<circle cx="850.2" cy="1144.5" r="10.1"/>
<circle cx="865.2" cy="1147" r="10.1"/>
<circle cx="880.2" cy="1147.3" r="10.1"/>
<circle cx="895.2" cy="1134.2" r="10.1"/>
<circle cx="910.2" cy="1129.1" r="10.1"/>
<circle cx="925.2" cy="1122.9" r="10.1"/>
<circle cx="940.2" cy="1114" r="10.1"/>
<circle cx="955.2" cy="1112" r="10.1"/>
<circle cx="970.2" cy="1101" r="10.1"/>
<circle cx="985.2" cy="1099.2" r="10.1"/>
<circle cx="1000.2" cy="1101.9" r="10.1"/>
<circle cx="1015.2" cy="1091.8" r="10.1"/>
<circle cx="1030.2" cy="1086.6" r="10.1"/>
<circle cx="1045.2" cy="1077.2" r="10.1"/>
</g>
<g clip-path="url(#clipc)"><path d="M149.6 1595.3L151.6 1595.3L153.59 1595.3L155.59 1595.3L157.59 1595.3L159.59 1595.3L161.58 1595.3L163.58 1595.3L165.58 1595.3L167.57 1595.3L169.57 1595.3L171.57 1595.3L173.57 1595.3L175.56 1595.3L177.56 1595.3L179.56 1595.3L181.55 1595.3L183.55 1595.3L185.55 1595.3L187.55 1595.3L189.54 1595.3L191.54 1595.3L193.54 1595.3L195.53 1595.3L197.53 1595.3L199.53 1595.3L201.53 1595.3L203.52 1595.29L205.52 1595.29L207.52 1595.29L209.51 1595.29L211.51 1595.29L213.51 1595.29L215.5 1595.29L217.5 1595.29L219.5 1595.29L221.49 1595.29L223.49 1595.29L225.49 1595.29L227.49 1595.29L229.48 1595.29L231.48 1595.29L233.48 1595.29L235.47 1595.29L237.47 1595.28L239.47 1595.28L241.46 1595.28L243.46 1595.28L245.46 1595.28L247.45 1595.28L249.45 1595.28L251.45 1595.28L253.44 1595.28L255.44 1595.28L257.44 1595.27L259.43 1595.27L261.43 1595.27L263.43 1595.27L265.43 1595.27L267.42 1595.27L269.42 1595.27L271.42 1595.27L273.41 1595.26L275.41 1595.26L277.41 1595.26L279.4 1595.26L281.4 1595.26L283.4 1595.26L285.39 1595.26L287.39 1595.25L289.39 1595.25L291.38 1595.25L293.38 1595.25L295.38 1595.25L297.37 1595.25L299.37 1595.24L301.37 1595.24L303.36 1595.24L305.36 1595.24L307.36 1595.24L309.35 1595.24L311.35 1595.23L313.35 1595.23L315.34 1595.23L317.34 1595.23L319.34 1595.22L321.33 1595.22L323.33 1595.22L325.33 1595.22L327.32 1595.22L329.32 1595.21L331.31 1595.21L333.31 1595.21L335.31 1595.21L337.3 1595.2L339.3 1595.2L341.3 1595.2L343.3 1595.19L345.29 1595.18L347.29 1595.16L349.29 1595.14L351.29 1595.11L353.29 1595.08L355.29 1595.04L357.29 1595L359.29 1594.96L361.29 1594.91L363.28 1594.86L365.28 1594.8L367.27 1594.74L369.27 1594.67L371.26 1594.6L373.25 1594.53L375.24 1594.45L377.23 1594.37L379.22 1594.24L381.21 1594.07L383.19 1593.85L385.18 1593.59L387.16 1593.3L389.14 1592.99L391.12 1592.66L393.08 1592.32L395.04 1591.97L397.01 1591.61L398.97 1591.21L400.94 1590.77L402.89 1590.29L404.83 1589.78L406.75 1589.22L408.64 1588.63L410.5 1587.98L412.35 1587.23L414.19 1586.4L416 1585.48L417.76 1584.5L419.46 1583.47L421.09 1582.4L422.68 1581.23L424.23 1579.97L425.74 1578.64L427.22 1577.24L428.64 1575.8L430.02 1574.34L431.36 1572.86L432.64 1571.37L433.89 1569.82L435.1 1568.23L436.27 1566.6L437.42 1564.94L438.53 1563.27L439.63 1561.59L440.7 1559.91L441.75 1558.22L442.78 1556.51L443.79 1554.79L444.78 1553.05L445.75 1551.3L446.71 1549.54L447.64 1547.77L448.56 1545.99L449.45 1544.21L450.33 1542.42L451.19 1540.62L452.03 1538.81L452.86 1537L453.67 1535.17L454.47 1533.34L455.26 1531.5L456.04 1529.66L456.8 1527.81L457.56 1525.96L458.31 1524.11L459.06 1522.26L459.79 1520.4L460.51 1518.54L461.23 1516.68L461.93 1514.81L462.62 1512.94L463.31 1511.06L463.99 1509.19L464.67 1507.31L465.35 1505.43L466.02 1503.54L466.69 1501.66L467.36 1499.78L468.03 1497.9L468.7 1496.02L469.37 1494.14L470.03 1492.25L470.69 1490.37L471.35 1488.48L472 1486.6L472.65 1484.71L473.3 1482.82L473.95 1480.93L474.6 1479.04L475.25 1477.16L475.9 1475.27L476.55 1473.38L477.2 1471.49L477.85 1469.6L478.49 1467.71L479.14 1465.82L479.78 1463.93L480.41 1462.04L481.05 1460.14L481.69 1458.25L482.33 1456.36L482.97 1454.47L483.62 1452.58L484.27 1450.69L484.92 1448.8L485.58 1446.92L486.24 1445.04L486.92 1443.16L487.59 1441.28L488.27 1439.4L488.95 1437.52L489.64 1435.65L490.33 1433.77L491.02 1431.9L491.72 1430.03L492.42 1428.16L493.13 1426.29L493.84 1424.43L494.56 1422.56L495.29 1420.7L496.01 1418.85L496.75 1416.99L497.49 1415.13L498.23 1413.28L498.98 1411.43L499.73 1409.57L500.49 1407.73L501.26 1405.88L502.03 1404.04L502.82 1402.21L503.61 1400.37L504.41 1398.55L505.23 1396.73L506.05 1394.91L506.88 1393.09L507.72 1391.28L508.58 1389.47L509.44 1387.67L510.31 1385.87L511.19 1384.08L512.08 1382.29L512.98 1380.51L513.88 1378.73L514.8 1376.96L515.73 1375.19L516.67 1373.42L517.61 1371.67L518.57 1369.91L519.55 1368.17L520.53 1366.43L521.53 1364.7L522.54 1362.98L523.56 1361.27L524.6 1359.56L525.65 1357.86L526.72 1356.17L527.8 1354.49L528.9 1352.82L530.02 1351.16L531.14 1349.51L532.28 1347.88L533.44 1346.26L534.62 1344.64L535.81 1343.04L537.03 1341.45L538.26 1339.87L539.5 1338.31L540.76 1336.76L542.04 1335.24L543.34 1333.72L544.66 1332.22L546 1330.73L547.36 1329.26L548.73 1327.81L550.12 1326.38L551.53 1324.97L552.97 1323.59L554.42 1322.22L555.9 1320.87L557.39 1319.54L558.88 1318.21L560.39 1316.9L561.91 1315.61L563.45 1314.34L565 1313.08L566.55 1311.82L568.11 1310.57L569.65 1309.3L571.2 1308.04L572.75 1306.79L574.31 1305.53L575.86 1304.28L577.42 1303.03L578.97 1301.77L580.53 1300.52L582.08 1299.27L583.63 1298.01L585.18 1296.74L586.72 1295.47L588.27 1294.2L589.81 1292.94L591.37 1291.69L592.94 1290.45L594.52 1289.24L596.12 1288.04L597.73 1286.87L599.36 1285.71L600.99 1284.57L602.64 1283.43L604.29 1282.31L605.96 1281.2L607.62 1280.1L609.29 1279.01L610.97 1277.92L612.65 1276.84L614.34 1275.78L616.03 1274.72L617.73 1273.67L619.44 1272.63L621.15 1271.6L622.86 1270.58L624.58 1269.57L626.31 1268.57L628.04 1267.58L629.78 1266.59L631.52 1265.62L633.27 1264.64L635.02 1263.68L636.77 1262.72L638.52 1261.76L640.28 1260.82L642.04 1259.88L643.81 1258.94L645.57 1258.01L647.34 1257.08L649.1 1256.14L650.87 1255.2L652.63 1254.26L654.39 1253.32L656.15 1252.38L657.91 1251.44L659.67 1250.49L661.43 1249.56L663.2 1248.63L664.97 1247.7L666.74 1246.78L668.51 1245.86L670.29 1244.94L672.06 1244.03L673.84 1243.12L675.62 1242.21L677.4 1241.31L679.18 1240.4L680.96 1239.5L682.74 1238.6L684.53 1237.7L686.31 1236.81L688.1 1235.91L689.88 1235.01L691.66 1234.12L693.45 1233.22L695.23 1232.31L697.01 1231.41L698.79 1230.51L700.57 1229.61L702.36 1228.71L704.14 1227.82L705.94 1226.94L707.73 1226.06L709.53 1225.2L711.33 1224.33L713.13 1223.47L714.94 1222.62L716.74 1221.76L718.55 1220.91L720.35 1220.06L722.16 1219.21L723.97 1218.36L725.78 1217.52L727.59 1216.68L729.4 1215.84L731.21 1214.99L733.02 1214.14L734.82 1213.29L736.63 1212.44L738.43 1211.58L740.24 1210.73L742.04 1209.87L743.84 1209.01L745.65 1208.15L747.45 1207.3L749.25 1206.44L751.06 1205.58L752.86 1204.72L754.66 1203.86L756.46 1203L758.26 1202.14L760.06 1201.27L761.85 1200.39L763.65 1199.51L765.44 1198.62L767.22 1197.73L769.01 1196.84L770.8 1195.95L772.58 1195.06L774.37 1194.17L776.16 1193.27L777.94 1192.38L779.73 1191.49L781.52 1190.6L783.3 1189.7L785.09 1188.81L786.87 1187.91L788.66 1187.02L790.44 1186.12L792.22 1185.22L794.01 1184.32L795.79 1183.42L797.57 1182.52L799.36 1181.62L801.14 1180.73L802.93 1179.84L804.72 1178.95L806.5 1178.06L808.29 1177.17L810.08 1176.28L811.87 1175.4L813.66 1174.52L815.45 1173.63L817.25 1172.75L819.04 1171.87L820.83 1170.99L822.62 1170.11L824.42 1169.24L826.21 1168.36L828.01 1167.48L829.8 1166.61L831.6 1165.73L833.39 1164.86L835.19 1163.99L836.98 1163.11L838.78 1162.24L840.58 1161.37L842.37 1160.5L844.17 1159.63L845.97 1158.76L847.77 1157.89L849.56 1157.02L851.36 1156.15L853.16 1155.29L854.96 1154.42L856.76 1153.56L858.56 1152.69L860.36 1151.83L862.16 1150.96L863.96 1150.1L865.76 1149.24L867.56 1148.38L869.37 1147.52L871.17 1146.66L872.97 1145.8L874.77 1144.94L876.58 1144.08L878.38 1143.23L880.18 1142.37L881.99 1141.51L883.79 1140.66L885.6 1139.8L887.4 1138.95L889.21 1138.09L891.01 1137.24L892.82 1136.39L894.62 1135.54L896.43 1134.68L898.24 1133.83L900.04 1132.98L901.85 1132.13L903.66 1131.28L905.46 1130.43L907.27 1129.58L909.08 1128.73L910.88 1127.88L912.69 1127.03L914.5 1126.18L916.31 1125.33L918.11 1124.48L919.92 1123.64L921.73 1122.79L923.54 1121.94L925.35 1121.1L927.16 1120.26L928.97 1119.41L930.78 1118.57L932.59 1117.73L934.4 1116.89L936.21 1116.05L938.03 1115.21L939.84 1114.37L941.65 1113.54L943.47 1112.7L945.28 1111.87L947.1 1111.04L948.91 1110.2L950.73 1109.37L952.54 1108.54L954.36 1107.71L956.17 1106.88L957.99 1106.05L959.81 1105.22L961.63 1104.4L963.44 1103.57L965.26 1102.75L967.08 1101.92L968.9 1101.1L970.72 1100.28L972.54 1099.46L974.36 1098.64L976.18 1097.82L978 1097L979.82 1096.18L981.65 1095.36L983.47 1094.54L985.29 1093.73L987.11 1092.91L988.94 1092.1L990.76 1091.28L992.58 1090.47L994.41 1089.66L996.23 1088.85L998.06 1088.03L999.88 1087.22L1001.71 1086.42L1003.53 1085.61L1005.36 1084.8L1007.19 1084L1009.02 1083.19L1010.85 1082.39L1012.67 1081.59L1014.5 1080.79L1016.33 1079.99L1018.17 1079.2L1020 1078.4L1021.83 1077.61L1023.66 1076.82L1025.5 1076.03L1027.33 1075.24L1029.17 1074.45L1031 1073.67L1032.84 1072.88L1034.68 1072.1L1036.52 1071.32L1038.35 1070.54L1040.19 1069.77L1042.03 1068.99L1043.87 1068.22L1045.72 1067.44L1047.56 1066.67L1049.4 1065.9" fill="none" stroke="#ff0000" stroke-width="5.5" stroke-linejoin="round" stroke-linecap="butt"/></g>
<g stroke="#000" stroke-width="2.6" fill="none" stroke-linecap="butt">
<rect x="149.6" y="920.7" width="899.4" height="674.6" stroke-linejoin="miter"/>
<path d="M149.6 1595.3v-12.9M149.6 920.7v12.9M299.5 1595.3v-12.9M299.5 920.7v12.9M449.4 1595.3v-12.9M449.4 920.7v12.9M599.3 1595.3v-12.9M599.3 920.7v12.9M749.2 1595.3v-12.9M749.2 920.7v12.9M899.1 1595.3v-12.9M899.1 920.7v12.9M1049 1595.3v-12.9M1049 920.7v12.9M224.55 1595.3v-6.5M224.55 920.7v6.5M374.45 1595.3v-6.5M374.45 920.7v6.5M524.35 1595.3v-6.5M524.35 920.7v6.5M674.25 1595.3v-6.5M674.25 920.7v6.5M824.15 1595.3v-6.5M824.15 920.7v6.5M974.05 1595.3v-6.5M974.05 920.7v6.5M149.6 1595.3h12.9M1049 1595.3h-12.9M149.6 1426.65h12.9M1049 1426.65h-12.9M149.6 1258h12.9M1049 1258h-12.9M149.6 1089.35h12.9M1049 1089.35h-12.9M149.6 920.7h12.9M1049 920.7h-12.9M149.6 1510.97h6.5M1049 1510.97h-6.5M149.6 1342.33h6.5M1049 1342.33h-6.5M149.6 1173.67h6.5M1049 1173.67h-6.5M149.6 1005.03h6.5M1049 1005.03h-6.5" stroke-width="2.3"/>
</g>
<g font-family='"Liberation Sans", Arial, Helvetica, sans-serif' font-size="57" fill="#000">
<text transform="translate(149.6 1654.9) scale(1 1.055)" text-anchor="middle">-4</text>
<text transform="translate(299.5 1654.9) scale(1 1.055)" text-anchor="middle">-2</text>
<text transform="translate(449.4 1654.9) scale(1 1.055)" text-anchor="middle">0</text>
<text transform="translate(599.3 1654.9) scale(1 1.055)" text-anchor="middle">2</text>
<text transform="translate(749.2 1654.9) scale(1 1.055)" text-anchor="middle">4</text>
<text transform="translate(899.1 1654.9) scale(1 1.055)" text-anchor="middle">6</text>
<text transform="translate(1049 1654.9) scale(1 1.055)" text-anchor="middle">8</text>
<text transform="translate(133.8 1612.6) scale(1 1.055)" text-anchor="end">0</text>
<text transform="translate(133.8 1443.95) scale(1 1.055)" text-anchor="end">1</text>
<text transform="translate(133.8 1275.3) scale(1 1.055)" text-anchor="end">2</text>
<text transform="translate(133.8 1106.65) scale(1 1.055)" text-anchor="end">3</text>
<text transform="translate(133.8 938) scale(1 1.055)" text-anchor="end">4</text>
</g>
<text transform="translate(600.2 1744) scale(1 1.03)" text-anchor="middle" font-family='"Liberation Sans", Arial, Helvetica, sans-serif' font-size="57" fill="#000">Time (ps)</text>
<text transform="translate(210.65 1004.8) scale(1 1.012)" text-anchor="middle" font-family='"Liberation Sans", Arial, Helvetica, sans-serif' font-size="76.5" fill="#000">(c)</text>
<text transform="translate(76.1 1258.3) rotate(-90) scale(1 1.03)" text-anchor="middle" font-family='"Liberation Sans", Arial, Helvetica, sans-serif' font-size="57" fill="#000"><tspan font-family='"Liberation Serif", "Times New Roman", serif'>&#916;</tspan><tspan font-style="italic">T</tspan> (K)</text>
<g clip-path="url(#clipd)"><path d="M1228.75 1595.3L1236.25 1595.3L1243.74 1595.3L1251.24 1595.3L1258.74 1595.3L1266.24 1595.3L1273.73 1595.3L1281.23 1595.3L1288.73 1595.3L1296.22 1595.3L1303.72 1595.3L1311.22 1595.3L1318.72 1595.3L1326.21 1595.3L1333.71 1595.3L1341.21 1595.3L1348.7 1595.3L1356.2 1595.3L1363.7 1595.3L1371.19 1595.3L1378.69 1595.29L1386.19 1595.27L1393.69 1595.21L1401.18 1595.07L1408.68 1594.74L1416.18 1594.01L1423.67 1592.45L1431.17 1589.34L1438.67 1583.51L1446.17 1573.22L1453.66 1556.15L1461.16 1529.55L1468.66 1490.76L1476.15 1437.89L1483.65 1370.89L1491.15 1292.34L1498.64 1208.03L1506.14 1126.53L1513.64 1057.97L1521.14 1011.94L1528.63 995.11L1536.13 1009.3L1543.63 1050.75L1551.12 1111.16L1558.62 1180.36L1566.12 1249.39L1573.62 1312.37L1581.11 1366.43L1588.61 1410.5L1596.11 1444.48L1603.6 1469L1611.1 1485.46L1618.6 1495.75L1626.1 1501.78L1633.59 1505.14L1641.09 1506.96L1648.59 1507.97L1656.08 1508.57L1663.58 1508.97L1671.08 1509.29L1678.58 1509.58L1686.07 1509.85L1693.57 1510.11L1701.07 1510.38L1708.56 1510.64L1716.06 1510.9L1723.56 1511.16L1731.05 1511.42L1738.55 1511.67L1746.05 1511.93L1753.55 1512.19L1761.04 1512.44L1768.54 1512.7L1776.04 1512.95L1783.53 1513.21L1791.03 1513.46L1798.53 1513.71L1806.03 1513.96L1813.52 1514.21L1821.02 1514.46L1828.52 1514.71L1836.01 1514.96L1843.51 1515.21L1851.01 1515.45L1858.51 1515.7L1866 1515.94L1873.5 1516.19L1881 1516.43L1888.49 1516.67L1895.99 1516.91L1903.49 1517.16L1910.98 1517.4L1918.48 1517.64L1925.98 1517.87L1933.48 1518.11L1940.97 1518.35L1948.47 1518.59L1955.97 1518.82L1963.46 1519.06L1970.96 1519.29L1978.46 1519.53L1985.96 1519.76L1993.45 1519.99L2000.95 1520.22L2008.45 1520.46L2015.94 1520.69L2023.44 1520.92L2030.94 1521.14L2038.43 1521.37L2045.93 1521.6L2053.43 1521.83L2060.93 1522.05L2068.42 1522.28L2075.92 1522.5L2083.42 1522.73L2090.91 1522.95L2098.41 1523.17L2105.91 1523.39L2113.41 1523.62L2120.9 1523.84L2128.4 1524.06" fill="none" stroke="#000" stroke-width="5.0" stroke-linejoin="round" stroke-linecap="butt"/></g>
<g clip-path="url(#clipd)"><path d="M1228.75 1595.3L1236.25 1595.3L1243.74 1595.3L1251.24 1595.3L1258.74 1595.3L1266.24 1595.3L1273.73 1595.3L1281.23 1595.3L1288.73 1595.3L1296.22 1595.3L1303.72 1595.3L1311.22 1595.3L1318.72 1595.3L1326.21 1595.3L1333.71 1595.3L1341.21 1595.3L1348.7 1595.3L1356.2 1595.3L1363.7 1595.3L1371.19 1595.3L1378.69 1595.29L1386.19 1595.27L1393.69 1595.22L1401.18 1595.1L1408.68 1594.8L1416.18 1594.14L1423.67 1592.72L1431.17 1589.87L1438.67 1584.5L1446.17 1574.98L1453.66 1559.1L1461.16 1534.25L1468.66 1497.87L1476.15 1448.12L1483.65 1384.87L1491.15 1310.53L1498.64 1230.56L1506.14 1153.13L1513.64 1087.91L1521.14 1044.08L1528.63 1028.05L1536.13 1041.57L1543.63 1081.03L1551.12 1138.5L1558.62 1204.22L1566.12 1269.63L1573.62 1329.14L1581.11 1380.06L1588.61 1421.44L1596.11 1453.23L1603.6 1476.1L1611.1 1491.4L1618.6 1500.92L1626.1 1506.48L1633.59 1509.57L1641.09 1511.24L1648.59 1512.16L1656.08 1512.71L1663.58 1513.09L1671.08 1513.39L1678.58 1513.66L1686.07 1513.92L1693.57 1514.17L1701.07 1514.42L1708.56 1514.67L1716.06 1514.92L1723.56 1515.17L1731.05 1515.41L1738.55 1515.66L1746.05 1515.9L1753.55 1516.15L1761.04 1516.39L1768.54 1516.63L1776.04 1516.88L1783.53 1517.12L1791.03 1517.36L1798.53 1517.6L1806.03 1517.84L1813.52 1518.08L1821.02 1518.31L1828.52 1518.55L1836.01 1518.79L1843.51 1519.02L1851.01 1519.26L1858.51 1519.49L1866 1519.72L1873.5 1519.96L1881 1520.19L1888.49 1520.42L1895.99 1520.65L1903.49 1520.88L1910.98 1521.11L1918.48 1521.34L1925.98 1521.56L1933.48 1521.79L1940.97 1522.02L1948.47 1522.24L1955.97 1522.47L1963.46 1522.69L1970.96 1522.92L1978.46 1523.14L1985.96 1523.36L1993.45 1523.58L2000.95 1523.8L2008.45 1524.02L2015.94 1524.24L2023.44 1524.46L2030.94 1524.68L2038.43 1524.9L2045.93 1525.11L2053.43 1525.33L2060.93 1525.54L2068.42 1525.76L2075.92 1525.97L2083.42 1526.18L2090.91 1526.4L2098.41 1526.61L2105.91 1526.82L2113.41 1527.03L2120.9 1527.24L2128.4 1527.45" fill="none" stroke="#ff0000" stroke-width="5.2" stroke-linejoin="round" stroke-linecap="butt"/></g>
<g><path d="M1521 1013.6L1519.03 1013.63L1517.05 1013.68L1515.07 1013.73L1513.08 1013.81L1511.1 1013.9L1509.11 1014.01L1507.13 1014.15L1505.15 1014.31L1503.17 1014.51L1501.2 1014.74L1499.23 1015L1497.27 1015.3L1495.31 1015.65L1493.36 1016.03L1491.43 1016.47L1489.5 1016.95L1487.58 1017.49L1485.68 1018.09L1483.8 1018.74L1481.94 1019.46L1480.12 1020.26L1478.33 1021.12L1476.59 1022.07L1474.9 1023.1L1473.26 1024.22L1471.67 1025.41L1470.13 1026.67L1468.64 1028L1467.19 1029.37L1465.79 1030.78L1464.43 1032.24L1463.11 1033.72L1461.82 1035.23L1460.56 1036.76L1459.32 1038.3L1458.1 1039.86L1456.88 1041.43L1455.67 1043.01L1454.46 1044.58L1453.23 1046.14L1451.98 1047.68L1450.7 1049.19L1449.37 1050.67L1448 1052.1L1446.57 1053.48L1445.08 1054.8L1443.53 1056.06L1441.94 1057.25L1440.29 1058.37L1438.6 1059.42L1436.87 1060.39L1435.09 1061.27L1433.28 1062.08L1431.44 1062.82L1429.57 1063.5L1427.67 1064.12L1425.77 1064.69L1423.84 1065.21L1421.91 1065.69L1419.98 1066.14L1418.03 1066.54L1416.09 1066.92L1414.13 1067.26L1412.17 1067.58L1410.21 1067.87L1408.25 1068.13L1406.28 1068.38L1404.3 1068.6L1402.33 1068.81L1400.36 1069.01L1398.38 1069.19L1396.4 1069.36L1394.43 1069.53L1392.45 1069.69L1390.47 1069.84L1388.5 1070" fill="none" stroke="#000" stroke-width="4.6" stroke-linejoin="round" stroke-linecap="butt"/></g>
<g><path d="M1546.2 1087L1548.19 1086.91L1550.18 1086.81L1552.17 1086.69L1554.16 1086.55L1556.15 1086.38L1558.13 1086.19L1560.12 1085.96L1562.09 1085.69L1564.06 1085.38L1566.02 1085.03L1567.98 1084.63L1569.92 1084.17L1571.84 1083.65L1573.76 1083.08L1575.66 1082.43L1577.54 1081.72L1579.38 1080.93L1581.18 1080.05L1582.92 1079.07L1584.6 1078L1586.19 1076.82L1587.71 1075.53L1589.16 1074.16L1590.55 1072.73L1591.9 1071.24L1593.21 1069.73L1594.51 1068.2L1595.8 1066.67L1597.09 1065.15L1598.4 1063.65L1599.75 1062.19L1601.14 1060.76L1602.58 1059.39L1604.08 1058.07L1605.64 1056.81L1607.24 1055.62L1608.9 1054.5L1610.6 1053.46L1612.35 1052.5L1614.15 1051.61L1615.97 1050.8L1617.83 1050.05L1619.71 1049.38L1621.62 1048.78L1623.54 1048.25L1625.48 1047.77L1627.43 1047.36L1629.39 1046.99L1631.36 1046.67L1633.33 1046.4L1635.32 1046.15L1637.31 1045.94L1639.3 1045.75L1641.29 1045.59L1643.29 1045.43L1645.28 1045.29L1647.27 1045.15L1649.25 1045.01L1651.23 1044.86L1653.2 1044.7" fill="none" stroke="#ff0000" stroke-width="4.6" stroke-linejoin="round" stroke-linecap="butt"/></g>
<g stroke-width="3" stroke-linejoin="round"><path d="M1388.3 1062.8L1374.0 1069.4L1388.3 1077.0Z" fill="#000" stroke="#000"/><path d="M1652.7 1037.5L1666.8 1044.7L1652.7 1052Z" fill="#ff0000" stroke="#ff0000"/></g>
<g stroke="#000" stroke-width="2.6" fill="none" stroke-linecap="butt">
<rect x="1228.75" y="920.6" width="899.65" height="674.7" stroke-linejoin="miter"/>
<path d="M1228.75 1595.3v-12.9M1228.75 920.6v12.9M1378.69 1595.3v-12.9M1378.69 920.6v12.9M1528.63 1595.3v-12.9M1528.63 920.6v12.9M1678.58 1595.3v-12.9M1678.58 920.6v12.9M1828.52 1595.3v-12.9M1828.52 920.6v12.9M1978.46 1595.3v-12.9M1978.46 920.6v12.9M2128.4 1595.3v-12.9M2128.4 920.6v12.9M1303.72 1595.3v-6.5M1303.72 920.6v6.5M1453.66 1595.3v-6.5M1453.66 920.6v6.5M1603.6 1595.3v-6.5M1603.6 920.6v6.5M1753.55 1595.3v-6.5M1753.55 920.6v6.5M1903.49 1595.3v-6.5M1903.49 920.6v6.5M2053.43 1595.3v-6.5M2053.43 920.6v6.5M1228.75 1595.3h12.9M2128.4 1595.3h-12.9M1228.75 1426.62h12.9M2128.4 1426.62h-12.9M1228.75 1257.95h12.9M2128.4 1257.95h-12.9M1228.75 1089.28h12.9M2128.4 1089.28h-12.9M1228.75 920.6h12.9M2128.4 920.6h-12.9M1228.75 1510.96h6.5M2128.4 1510.96h-6.5M1228.75 1342.29h6.5M2128.4 1342.29h-6.5M1228.75 1173.61h6.5M2128.4 1173.61h-6.5M1228.75 1004.94h6.5M2128.4 1004.94h-6.5" stroke-width="2.3"/>
</g>
<g font-family='"Liberation Sans", Arial, Helvetica, sans-serif' font-size="57" fill="#000">
<text transform="translate(1228.75 1654.9) scale(1 1.055)" text-anchor="middle">-4</text>
<text transform="translate(1378.69 1654.9) scale(1 1.055)" text-anchor="middle">-2</text>
<text transform="translate(1528.63 1654.9) scale(1 1.055)" text-anchor="middle">0</text>
<text transform="translate(1678.58 1654.9) scale(1 1.055)" text-anchor="middle">2</text>
<text transform="translate(1828.52 1654.9) scale(1 1.055)" text-anchor="middle">4</text>
<text transform="translate(1978.46 1654.9) scale(1 1.055)" text-anchor="middle">6</text>
<text transform="translate(2128.4 1654.9) scale(1 1.055)" text-anchor="middle">8</text>
<text transform="translate(1214.75 1613.3) scale(1 1.055)" text-anchor="end">0</text>
<text transform="translate(1214.75 1444.62) scale(1 1.055)" text-anchor="end">2</text>
<text transform="translate(1214.75 1275.95) scale(1 1.055)" text-anchor="end">4</text>
<text transform="translate(1214.75 1107.28) scale(1 1.055)" text-anchor="end">6</text>
<text transform="translate(1214.75 938.6) scale(1 1.055)" text-anchor="end">8</text>
<text transform="translate(2142.9 1613.3) scale(1 1.055)" text-anchor="start">0</text>
<text transform="translate(2142.9 1444.62) scale(1 1.055)" text-anchor="start">2</text>
<text transform="translate(2142.9 1275.95) scale(1 1.055)" text-anchor="start">4</text>
<text transform="translate(2142.9 1107.28) scale(1 1.055)" text-anchor="start">6</text>
<text transform="translate(2142.9 938.6) scale(1 1.055)" text-anchor="start">8</text>
</g>
<text transform="translate(1679.48 1744) scale(1 1.03)" text-anchor="middle" font-family='"Liberation Sans", Arial, Helvetica, sans-serif' font-size="57" fill="#000">Time (ps)</text>
<text transform="translate(1294.6 1004.7) scale(1 1.012)" text-anchor="middle" font-family='"Liberation Sans", Arial, Helvetica, sans-serif' font-size="76.5" fill="#000">(d)</text>
<g font-family='"Liberation Sans", Arial, Helvetica, sans-serif' fill="#000">
<text transform="translate(1145.1 1412.2) rotate(-90) scale(1 1.03)" y="0" text-anchor="middle" font-size="57" font-style="italic">J</text>
<text transform="translate(1145.1 1386.88) rotate(-90) scale(1 1.03)" y="13.59" text-anchor="middle" font-size="38.5">q</text>
<text transform="translate(1145.1 1352.9) rotate(-90) scale(1 1.03)" y="0" text-anchor="middle" font-size="57">(</text>
<text transform="translate(1145.1 1326.55) rotate(-90) scale(1 1.03)" y="0" text-anchor="middle" font-size="57">1</text>
<text transform="translate(1145.1 1300.6) rotate(-90) scale(1 1.03)" y="0" text-anchor="middle" font-size="57">0</text>
<text transform="translate(1145.1 1260.68) rotate(-90) scale(1 1.03)" y="-24.27" text-anchor="middle" font-size="38.5">11</text>
<text transform="translate(1145.1 1193.93) rotate(-90) scale(1 1.03)" y="0" text-anchor="middle" font-size="57">W</text>
<text transform="translate(1145.1 1138.46) rotate(-90) scale(1 1.03)" y="0" text-anchor="middle" font-size="57">m</text>
<text transform="translate(1145.1 1098.95) rotate(-90) scale(1 1.03)" y="-24.27" text-anchor="middle" font-size="38.5">-</text>
<text transform="translate(1145.1 1080.7) rotate(-90) scale(1 1.03)" y="-24.27" text-anchor="middle" font-size="38.5">2</text>
<text transform="translate(1145.1 1056.1) rotate(-90) scale(1 1.03)" y="0" text-anchor="middle" font-size="57">)</text>
</g>
<g font-family='"Liberation Sans", Arial, Helvetica, sans-serif' fill="#000">
<text transform="translate(2250.3 1422.23) rotate(-90) scale(1 1.03)" y="0" text-anchor="middle" font-size="57" font-style="italic">G</text>
<text transform="translate(2250.3 1393.59) rotate(-90) scale(1 1.03)" y="13.59" text-anchor="middle" font-size="38.5">s</text>
<text transform="translate(2250.3 1359.4) rotate(-90) scale(1 1.03)" y="0" text-anchor="middle" font-size="57">(</text>
<text transform="translate(2250.3 1331.8) rotate(-90) scale(1 1.03)" y="0" text-anchor="middle" font-size="57">1</text>
<text transform="translate(2250.3 1305.9) rotate(-90) scale(1 1.03)" y="0" text-anchor="middle" font-size="57">0</text>
<text transform="translate(2250.3 1278.8) rotate(-90) scale(1 1.03)" y="-24.27" text-anchor="middle" font-size="38.5">-</text>
<text transform="translate(2250.3 1261.06) rotate(-90) scale(1 1.03)" y="-24.27" text-anchor="middle" font-size="38.5">5</text>
<text transform="translate(2250.3 1216.85) rotate(-90) scale(1 1.03)" y="0" text-anchor="middle" font-size="57">A</text>
<text transform="translate(2250.3 1153.96) rotate(-90) scale(1 1.03)" y="0" text-anchor="middle" font-size="57">ps</text>
<text transform="translate(2250.3 1114.85) rotate(-90) scale(1 1.03)" y="-24.27" text-anchor="middle" font-size="38.5">-</text>
<text transform="translate(2250.3 1097.88) rotate(-90) scale(1 1.03)" y="-24.27" text-anchor="middle" font-size="38.5">1</text>
<text transform="translate(2250.3 1076.7) rotate(-90) scale(1 1.03)" y="0" text-anchor="middle" font-size="57">)</text>
</g>
</svg>
</body>
</html>
